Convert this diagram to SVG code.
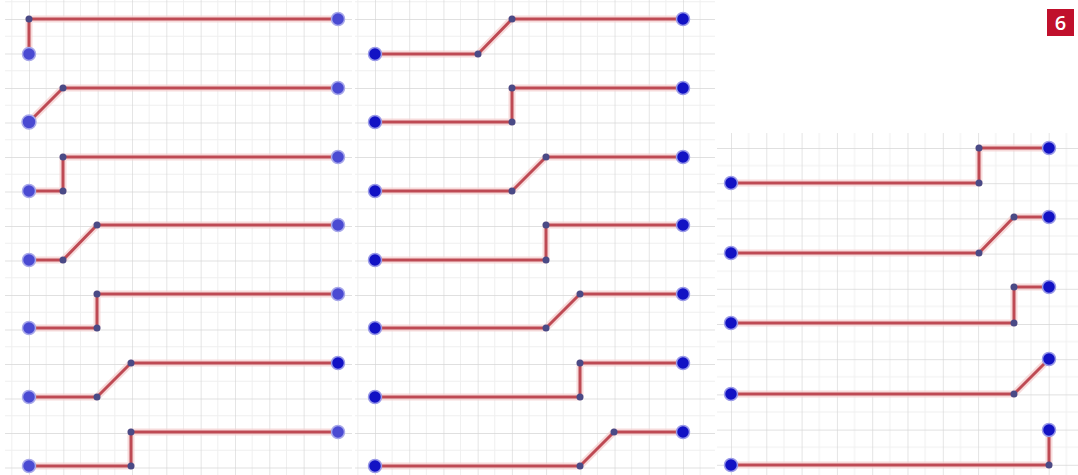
<svg xmlns="http://www.w3.org/2000/svg" width="1078" height="475" viewBox="0 0 1078 475">
<style>
.halo{fill:none;stroke:#f4cccc;stroke-width:7;stroke-linejoin:round;opacity:0.7}
.ln{fill:none;stroke:#be4a54;stroke-width:3;stroke-linejoin:round}
.end{fill:#1212c4;stroke:#9a9ae8;stroke-width:1.5}
.endL{fill:#4a4ad2;stroke:#a8a8ea;stroke-width:1.5}
.knot{fill:#4a4a86}
.badge{fill:#c0102c}
.bt{font-family:"Open Sans","Liberation Sans",sans-serif;font-weight:600;font-size:20px;fill:#fff}
</style>
<defs>
<pattern id="gL" patternUnits="userSpaceOnUse" x="29" y="19" width="34.33" height="34.5">
<path d="M17.2 0V34.5M0 17.25H34.33" stroke="#efefef" stroke-width="1"/>
<path d="M0 0V34.5M0 0H34.33" stroke="#d6d6d6" stroke-width="1.3"/>
</pattern>
<pattern id="gM" patternUnits="userSpaceOnUse" x="375" y="19" width="34.22" height="34.5">
<path d="M17.1 0V34.5M0 17.25H34.22" stroke="#efefef" stroke-width="1"/>
<path d="M0 0V34.5M0 0H34.22" stroke="#d6d6d6" stroke-width="1.3"/>
</pattern>
<pattern id="gR" patternUnits="userSpaceOnUse" x="731" y="148" width="35.3" height="35.2">
<path d="M17.65 0V35.2M0 17.6H35.3" stroke="#efefef" stroke-width="1"/>
<path d="M0 0V35.2M0 0H35.3" stroke="#d6d6d6" stroke-width="1.3"/>
</pattern>
</defs>
<rect width="1078" height="475" fill="#fff"/>
<g id="panels">
<rect x="5" y="0" width="347" height="475" fill="url(#gL)"/>
<rect x="355" y="0" width="360" height="475" fill="url(#gM)"/>
<rect x="717" y="133" width="361" height="342" fill="url(#gR)"/>
</g>
<g id="connectors">
<polyline class="halo" points="29,54 29,19 338,19"/>
<polyline class="halo" points="29,122 63,88 338,88"/>
<polyline class="halo" points="29,191 63,191 63,157 338,157"/>
<polyline class="halo" points="29,260 63,260 97,225 338,225"/>
<polyline class="halo" points="29,328 97,328 97,294 338,294"/>
<polyline class="halo" points="29,397 97,397 131,363 338,363"/>
<polyline class="halo" points="29,466 131,466 131,432 338,432"/>
<polyline class="halo" points="375,54 478,54 512,19 683,19"/>
<polyline class="halo" points="375,122 512,122 512,88 683,88"/>
<polyline class="halo" points="375,191 512,191 546,157 683,157"/>
<polyline class="halo" points="375,260 546,260 546,225 683,225"/>
<polyline class="halo" points="375,328 546,328 580,294 683,294"/>
<polyline class="halo" points="375,397 580,397 580,363 683,363"/>
<polyline class="halo" points="375,466 580,466 614,432 683,432"/>
<polyline class="halo" points="731,183 979,183 979,148 1049,148"/>
<polyline class="halo" points="731,253 979,253 1014,217 1049,217"/>
<polyline class="halo" points="731,323 1014,323 1014,287 1049,287"/>
<polyline class="halo" points="731,394 1014,394 1049,359"/>
<polyline class="halo" points="731,465 1049,465 1049,430"/>
<polyline class="ln" points="29,54 29,19 338,19"/>
<polyline class="ln" points="29,122 63,88 338,88"/>
<polyline class="ln" points="29,191 63,191 63,157 338,157"/>
<polyline class="ln" points="29,260 63,260 97,225 338,225"/>
<polyline class="ln" points="29,328 97,328 97,294 338,294"/>
<polyline class="ln" points="29,397 97,397 131,363 338,363"/>
<polyline class="ln" points="29,466 131,466 131,432 338,432"/>
<polyline class="ln" points="375,54 478,54 512,19 683,19"/>
<polyline class="ln" points="375,122 512,122 512,88 683,88"/>
<polyline class="ln" points="375,191 512,191 546,157 683,157"/>
<polyline class="ln" points="375,260 546,260 546,225 683,225"/>
<polyline class="ln" points="375,328 546,328 580,294 683,294"/>
<polyline class="ln" points="375,397 580,397 580,363 683,363"/>
<polyline class="ln" points="375,466 580,466 614,432 683,432"/>
<polyline class="ln" points="731,183 979,183 979,148 1049,148"/>
<polyline class="ln" points="731,253 979,253 1014,217 1049,217"/>
<polyline class="ln" points="731,323 1014,323 1014,287 1049,287"/>
<polyline class="ln" points="731,394 1014,394 1049,359"/>
<polyline class="ln" points="731,465 1049,465 1049,430"/>
</g>
<g id="L1"><circle class="endL" cx="29" cy="54" r="6.5"/><circle class="knot" cx="29" cy="19" r="3.5"/><circle class="endL" cx="338" cy="19" r="6.5"/></g>
<g id="L2"><circle class="endL" cx="29" cy="122" r="7"/><circle class="knot" cx="63" cy="88" r="3.5"/><circle class="endL" cx="338" cy="88" r="6.5"/></g>
<g id="L3"><circle class="endL" cx="29" cy="191" r="6.5"/><circle class="knot" cx="63" cy="191" r="3.5"/><circle class="knot" cx="63" cy="157" r="3.5"/><circle class="endL" cx="338" cy="157" r="6.5"/></g>
<g id="L4"><circle class="endL" cx="29" cy="260" r="6.5"/><circle class="knot" cx="63" cy="260" r="3.5"/><circle class="knot" cx="97" cy="225" r="3.5"/><circle class="endL" cx="338" cy="225" r="6.5"/></g>
<g id="L5"><circle class="endL" cx="29" cy="328" r="6.5"/><circle class="knot" cx="97" cy="328" r="3.5"/><circle class="knot" cx="97" cy="294" r="3.5"/><circle class="endL" cx="338" cy="294" r="6.5"/></g>
<g id="L6"><circle class="endL" cx="29" cy="397" r="6.5"/><circle class="knot" cx="97" cy="397" r="3.5"/><circle class="knot" cx="131" cy="363" r="3.5"/><circle class="end" cx="338" cy="363" r="6.5"/></g>
<g id="L7"><circle class="endL" cx="29" cy="466" r="6.5"/><circle class="knot" cx="131" cy="466" r="3.5"/><circle class="knot" cx="131" cy="432" r="3.5"/><circle class="endL" cx="338" cy="432" r="6.5"/></g>
<g id="M1"><circle class="end" cx="375" cy="54" r="6.5"/><circle class="knot" cx="478" cy="54" r="3.5"/><circle class="knot" cx="512" cy="19" r="3.5"/><circle class="end" cx="683" cy="19" r="6.5"/></g>
<g id="M2"><circle class="end" cx="375" cy="122" r="6.5"/><circle class="knot" cx="512" cy="122" r="3.5"/><circle class="knot" cx="512" cy="88" r="3.5"/><circle class="end" cx="683" cy="88" r="6.5"/></g>
<g id="M3"><circle class="end" cx="375" cy="191" r="6.5"/><circle class="knot" cx="512" cy="191" r="3.5"/><circle class="knot" cx="546" cy="157" r="3.5"/><circle class="end" cx="683" cy="157" r="6.5"/></g>
<g id="M4"><circle class="end" cx="375" cy="260" r="6.5"/><circle class="knot" cx="546" cy="260" r="3.5"/><circle class="knot" cx="546" cy="225" r="3.5"/><circle class="end" cx="683" cy="225" r="6.5"/></g>
<g id="M5"><circle class="end" cx="375" cy="328" r="6.5"/><circle class="knot" cx="546" cy="328" r="3.5"/><circle class="knot" cx="580" cy="294" r="3.5"/><circle class="end" cx="683" cy="294" r="6.5"/></g>
<g id="M6"><circle class="end" cx="375" cy="397" r="6.5"/><circle class="knot" cx="580" cy="397" r="3.5"/><circle class="knot" cx="580" cy="363" r="3.5"/><circle class="end" cx="683" cy="363" r="6.5"/></g>
<g id="M7"><circle class="end" cx="375" cy="466" r="6.5"/><circle class="knot" cx="580" cy="466" r="3.5"/><circle class="knot" cx="614" cy="432" r="3.5"/><circle class="end" cx="683" cy="432" r="6.5"/></g>
<g id="R1"><circle class="end" cx="731" cy="183" r="6.5"/><circle class="knot" cx="979" cy="183" r="3.5"/><circle class="knot" cx="979" cy="148" r="3.5"/><circle class="end" cx="1049" cy="148" r="6.5"/></g>
<g id="R2"><circle class="end" cx="731" cy="253" r="6.5"/><circle class="knot" cx="979" cy="253" r="3.5"/><circle class="knot" cx="1014" cy="217" r="3.5"/><circle class="end" cx="1049" cy="217" r="6.5"/></g>
<g id="R3"><circle class="end" cx="731" cy="323" r="6.5"/><circle class="knot" cx="1014" cy="323" r="3.5"/><circle class="knot" cx="1014" cy="287" r="3.5"/><circle class="end" cx="1049" cy="287" r="6.5"/></g>
<g id="R4"><circle class="end" cx="731" cy="394" r="6.5"/><circle class="knot" cx="1014" cy="394" r="3.5"/><circle class="end" cx="1049" cy="359" r="6.5"/></g>
<g id="R5"><circle class="end" cx="731" cy="465" r="6.5"/><circle class="knot" cx="1049" cy="465" r="3.5"/><circle class="end" cx="1049" cy="430" r="6.5"/></g>
<g id="badge"><rect class="badge" x="1047" y="9" width="27" height="27"/><text class="bt" x="1060.5" y="29.5" text-anchor="middle">6</text></g>
</svg>
